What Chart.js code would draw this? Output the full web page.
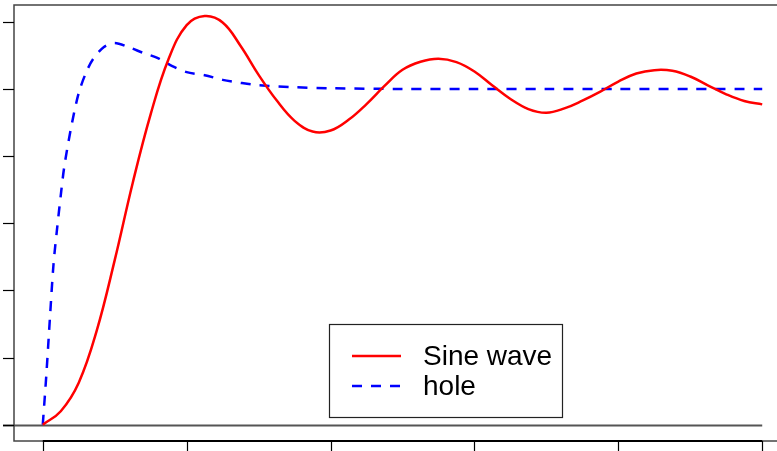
<!DOCTYPE html>
<html>
<head>
<meta charset="utf-8">
<script src="https://cdn.jsdelivr.net/npm/chart.js@4/dist/chart.umd.min.js"></script>
<style>
  html, body { margin: 0; padding: 0; background: #fff; overflow: hidden; }
  canvas { display: block; }
</style>
</head>
<body>
<canvas id="chart" width="800" height="451"></canvas>
<script>
// time axis and series
const tRed = [0, 0.25, 0.5, 0.75, 1, 1.25, 1.5, 1.75, 2, 2.25, 2.5, 2.75, 3, 3.25, 3.5, 3.75, 4,
  4.25, 4.5, 4.75, 5, 5.25, 5.5, 5.75, 6, 6.25, 6.5, 6.75, 7, 7.25, 7.5, 7.75, 8,
  8.25, 8.5, 8.75, 9, 9.25, 9.5, 9.75, 10];
const sineWave = [0, 0.040, 0.125, 0.280, 0.490, 0.720, 0.925, 1.090, 1.190, 1.217, 1.198, 1.128, 1.042,
  0.966, 0.905, 0.873, 0.876, 0.908, 0.955, 1.009, 1.057, 1.081, 1.090, 1.080, 1.052, 1.010, 0.970,
  0.940, 0.929, 0.942, 0.965, 0.992, 1.022, 1.046, 1.056, 1.054, 1.037, 1.010, 0.984, 0.964, 0.954];

const tBlue = [0, 0.05, 0.1, 0.15, 0.2, 0.25, 0.3, 0.4, 0.5, 0.6, 0.7, 0.85, 1.0, 1.2, 1.4, 1.6, 1.8,
  2.0, 2.25, 2.5, 2.75, 3.0, 3.5, 4.0, 5, 6, 7, 8, 9, 10];
const hole = [0, 0.15, 0.32, 0.48, 0.586, 0.683, 0.77, 0.892, 0.988, 1.048, 1.089, 1.125, 1.137, 1.124,
  1.107, 1.092, 1.068, 1.05, 1.041, 1.027, 1.018, 1.011, 1.005, 1.002, 1.0, 1.0, 1.0, 1.0, 1.0, 1.0];

const xTicks = [0, 2, 4, 6, 8, 10];
const yTicks = [0, 0.2, 0.4, 0.6, 0.8, 1.0, 1.2];
const labels = ['Sine wave', 'hole'];

const pts = (xs, ys) => xs.map((x, i) => ({ x: x, y: ys[i] }));

// base-graphics look: box, outside ticks, zero line, boxed legend
const basePlot = {
  id: 'basePlot',
  beforeDatasetsDraw(chart) {
    const { ctx, chartArea: a, scales: { x, y } } = chart;
    ctx.save();
    ctx.strokeStyle = '#555';
    ctx.lineWidth = 2;
    const y0 = Math.round(y.getPixelForValue(0)) + 0.5;
    ctx.beginPath();
    ctx.moveTo(a.left - 11, y0);
    ctx.lineTo(x.getPixelForValue(10), y0);
    ctx.stroke();
    ctx.restore();
  },
  afterDraw(chart) {
    const { ctx, chartArea: a, scales: { x, y } } = chart;
    ctx.save();
    ctx.strokeStyle = '#444';
    ctx.lineWidth = 1.5;
    ctx.strokeRect(a.left, a.top, a.right - a.left, a.bottom - a.top);

    ctx.strokeStyle = '#000';
    ctx.lineWidth = 1.2;
    yTicks.forEach(v => {
      const py = Math.round(y.getPixelForValue(v)) + 0.5;
      ctx.beginPath();
      ctx.moveTo(a.left - 11, py);
      ctx.lineTo(a.left, py);
      ctx.stroke();
    });
    ctx.lineWidth = 2;
    ctx.beginPath();
    ctx.moveTo(x.getPixelForValue(xTicks[0]), a.bottom);
    ctx.lineTo(x.getPixelForValue(xTicks[xTicks.length - 1]), a.bottom);
    ctx.stroke();
    ctx.lineWidth = 1.2;
    xTicks.forEach(v => {
      const px = Math.round(x.getPixelForValue(v)) + 0.5;
      ctx.beginPath();
      ctx.moveTo(px, a.bottom);
      ctx.lineTo(px, a.bottom + 12);
      ctx.stroke();
    });

    // legend
    const lx = 329.5, ly = 324.5, lw = 233, lh = 93;
    ctx.fillStyle = '#fff';
    ctx.fillRect(lx, ly, lw, lh);
    ctx.strokeStyle = '#222';
    ctx.lineWidth = 1.2;
    ctx.strokeRect(lx, ly, lw, lh);
    ctx.font = '28px "Liberation Sans", Arial, sans-serif';
    ctx.textBaseline = 'middle';
    chart.data.datasets.forEach((ds, i) => {
      const cy = 356 + i * 30;
      ctx.strokeStyle = ds.borderColor;
      ctx.lineWidth = ds.borderWidth;
      ctx.setLineDash(ds.borderDash || []);
      ctx.beginPath();
      ctx.moveTo(352, cy);
      ctx.lineTo(401, cy);
      ctx.stroke();
      ctx.setLineDash([]);
      ctx.fillStyle = '#000';
      ctx.fillText(ds.label, 423, cy + 1);
    });
    ctx.restore();
  }
};

new Chart(document.getElementById('chart').getContext('2d'), {
  type: 'line',
  data: {
    datasets: [{
      label: labels[0],
      data: pts(tRed, sineWave),
      borderColor: '#ff0000',
      borderWidth: 2.5,
      pointRadius: 0,
      tension: 0.4
    }, {
      label: labels[1],
      data: pts(tBlue, hole),
      borderColor: '#0000ff',
      borderWidth: 2.5,
      borderDash: [10, 9],
      pointRadius: 0,
      tension: 0.3
    }]
  },
  options: {
    responsive: false,
    animation: false,
    layout: { padding: { left: 14, top: 5, right: 9, bottom: 10 } },
    scales: {
      x: { type: 'linear', min: -0.4, max: 10.4, display: false },
      y: { min: -0.0487, max: 1.25, display: false }
    },
    plugins: {
      legend: { display: false },
      tooltip: { enabled: false }
    }
  },
  plugins: [basePlot]
});
</script>
</body>
</html>
